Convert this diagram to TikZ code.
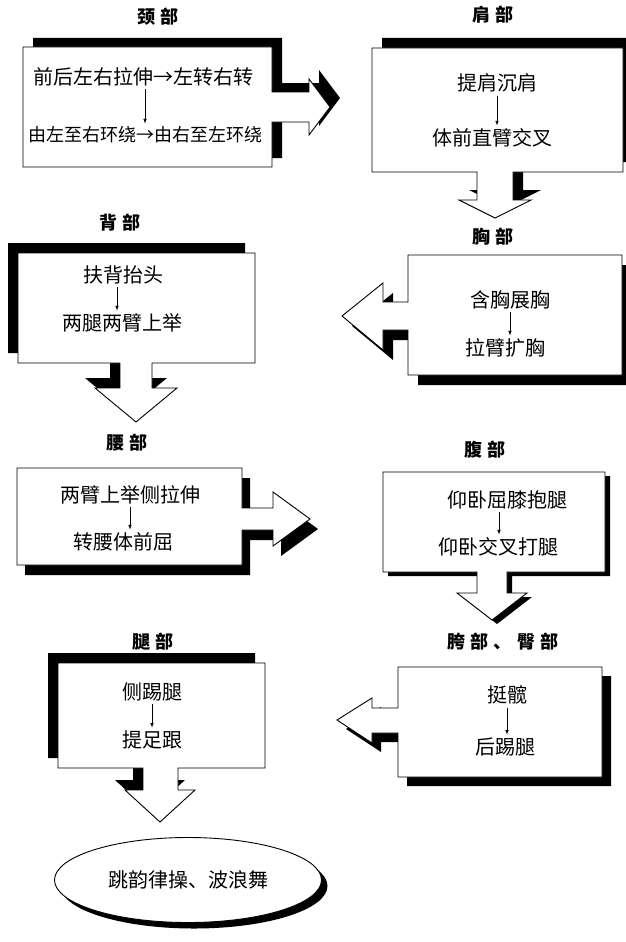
\documentclass[tikz,border=0pt]{standalone}
\usepackage{fontspec}
\newfontfamily\cjk{Noto Sans CJK SC}
\usepackage{tikz}
\usetikzlibrary{arrows, shadows, shapes.geometric}

\begin{document}
\begin{tikzpicture}[
  x=1pt, y=-1pt, font=\cjk,
  > = latex,
  part/.style = {font=\cjk\bfseries\fontsize{18}{18}\selectfont\addfontfeature{LetterSpace=30}, inner sep=0pt},
  item/.style = {font=\cjk\fontsize{20}{20}\selectfont, inner sep=2pt},
  flow/.style = {->, line width=.6pt, shorten >=1pt, shorten <=1pt},
  panel/.style 2 args = {draw, line width=.9pt, fill=white,
    general shadow={fill=black, shadow xshift=#1pt, shadow yshift=#2pt}}
  ]
  \useasboundingbox (0,0) rectangle (626,942);
  % neck
  \draw[panel={10}{9}] (23,47) -- (272,47) -- (272,92) -- (309,92) -- (309,79) -- (330,107)
    -- (309,135) -- (309,122) -- (272,122) -- (272,167) -- (23,167) -- cycle;
  \node[part] (neck) at (158,17) {颈部};
  \node[item] (neck1) at (143,77) {前后左右拉伸→左转右转};
  \node[item, font=\cjk\fontsize{18}{18}\selectfont] (neck2) at (145,135) {由左至右环绕→由右至左环绕};
  \draw[flow] (neck1.south -| 145,0) -- (neck2.north -| 145,0);
  % shoulder
  \draw[panel={10}{10}] (372,48) -- (623,48) -- (623,172) -- (513,172) -- (513,200) -- (531,200)
    -- (495,218) -- (459,200) -- (477,200) -- (477,172) -- (372,172) -- cycle;
  \node[part] (shoulder) at (493,15) {肩部};
  \node[item] (shoulder1) at (497,83) {提肩沉肩};
  \node[item] (shoulder2) at (492,138) {体前直臂交叉};
  \draw[flow] (shoulder1.south) -- (shoulder1.south |- shoulder2.north);
  % back
  \draw[panel={-10}{10}] (18,253) -- (255,253) -- (255,363) -- (152,363) -- (152,388) -- (177,388)
    -- (136,422) -- (95,388) -- (120,388) -- (120,363) -- (18,363) -- cycle;
  \node[part] (back) at (120,223) {背部};
  \node[item] (back1) at (123,275) {扶背抬头};
  \node[item] (back2) at (122,323) {两腿两臂上举};
  \draw[flow] (back1.south -| 117,0) -- (back2.north -| 117,0);
  % chest
  \draw[panel={10}{-10}] (408,255) -- (622,255) -- (622,375) -- (408,375) -- (408,330) -- (383,330)
    -- (383,350) -- (342,316) -- (383,283) -- (383,302) -- (408,302) -- cycle;
  \node[part] (chest) at (493,237) {胸部};
  \node[item] (chest1) at (510,300) {含胸展胸};
  \node[item] (chest2) at (505,348) {拉臂扩胸};
  \draw[flow] (chest1.south) -- (chest1.south |- chest2.north);
  % waist
  \draw[panel={8}{-10}] (17,468) -- (242,468) -- (242,508) -- (273,508) -- (273,492) -- (310,519)
    -- (273,546) -- (273,530) -- (242,530) -- (242,565) -- (17,565) -- cycle;
  \node[part] (waist) at (127,443) {腰部};
  \node[item] (waist1) at (130,495) {两臂上举侧拉伸};
  \node[item] (waist2) at (123,542) {转腰体前屈};
  \draw[flow] (waist1.south) -- (waist1.south |- waist2.north);
  % belly
  \draw[panel={5}{-4}] (383,472) -- (605,472) -- (605,572) -- (507,572) -- (507,593) -- (527,593)
    -- (492,620) -- (457,593) -- (477,593) -- (477,572) -- (383,572) -- cycle;
  \node[part] (belly) at (485,450) {腹部};
  \node[item] (belly1) at (507,500) {仰卧屈膝抱腿};
  \node[item] (belly2) at (498,547) {仰卧交叉打腿};
  \draw[flow] (belly1.south -| 499,0) -- (belly2.north -| 499,0);
  % hip
  \draw[panel={9}{-9}] (398,667) -- (602,667) -- (602,777) -- (398,777) -- (398,733) -- (372,733)
    -- (372,743) -- (337,720) -- (372,698) -- (372,708) -- (398,708) -- cycle;
  \node[part] (hip) at (503,642) {胯部、臀部};
  \node[item] (hip1) at (507,695) {挺髋};
  \node[item] (hip2) at (505,747) {后踢腿};
  \draw[flow] (hip1.south) -- (hip1.south |- hip2.north);
  % leg
  \draw[panel={-10}{10}] (58,663) -- (265,663) -- (265,768) -- (178,768) -- (178,790) -- (195,790)
    -- (160,822) -- (125,790) -- (143,790) -- (143,768) -- (58,768) -- cycle;
  \node[part] (leg) at (153,642) {腿部};
  \node[item] (leg1) at (152,692) {侧踢腿};
  \node[item] (leg2) at (152,740) {提足跟};
  \draw[flow] (leg1.south) -- (leg1.south |- leg2.north);
  % finish
  \node[ellipse, panel={6}{-6}, minimum width=267pt, minimum height=85pt, inner sep=0pt,
    font=\cjk\fontsize{20}{20}\selectfont] (finish) at (188,880) {跳韵律操、波浪舞};
\end{tikzpicture}
\end{document}
